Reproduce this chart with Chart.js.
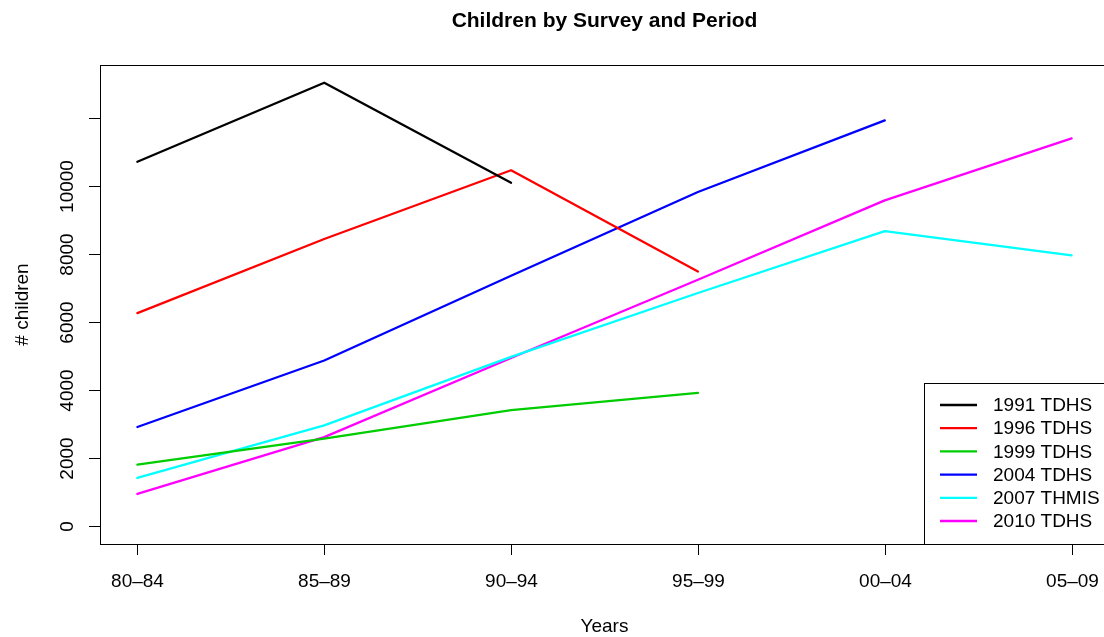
<!doctype html>
<html>

<head>
  <meta charset="UTF-8">
  <script src="https://cdn.jsdelivr.net/npm/chart.js"></script>
  <style>
    html, body { margin: 0; padding: 0; background: #fff; overflow: hidden; }
    #chart { position: absolute; left: 0; top: 0; }
  </style>
</head>

<body>
  <canvas id="chart" width="1120" height="637"></canvas>
</body>

<script>
  // Data
  const periods = ['80–84', '85–89', '90–94', '95–99', '00–04', '05–09'];
  const surveys = ['1991 TDHS', '1996 TDHS', '1999 TDHS', '2004 TDHS', '2007 THMIS', '2010 TDHS'];
  const colors = ['#000000', '#FF0000', '#00CD00', '#0000FF', '#00FFFF', '#FF00FF'];

  const s1991 = [10720, 13045, 10105, null, null, null];
  const s1996 = [6270, 8450, 10470, 7495, null, null];
  const s1999 = [1815, 2580, 3415, 3925, null, null];
  const s2004 = [2920, 4875, 7370, 9830, 11940, null];
  const s2007 = [1420, 2965, 4980, 6860, 8680, 7965];
  const s2010 = [950, 2620, 4950, 7250, 9585, 11410];
  const series = [s1991, s1996, s1999, s2004, s2007, s2010];

  const yTicks = [0, 2000, 4000, 6000, 8000, 10000, 12000];
  const yTickLabels = ['0', '2000', '4000', '6000', '8000', '10000', ''];

  const FONT = '"Liberation Sans", Arial, Helvetica, sans-serif';

  // R-style axes, box, titles and legend
  const rDecor = {
    id: 'rDecor',
    afterDraw(chart) {
      const ctx = chart.ctx;
      const a = chart.chartArea;
      const xs = chart.scales.x;
      const ys = chart.scales.y;
      ctx.save();
      ctx.strokeStyle = '#000';
      ctx.fillStyle = '#000';
      ctx.lineWidth = 1;

      // plot box
      ctx.strokeRect(Math.round(a.left) + 0.5, Math.round(a.top) + 0.5,
        Math.round(a.right - a.left), Math.round(a.bottom - a.top));

      // x axis ticks + labels
      ctx.font = '19px ' + FONT;
      ctx.textAlign = 'center';
      ctx.textBaseline = 'alphabetic';
      periods.forEach((p, i) => {
        const x = Math.round(xs.getPixelForValue(i + 1)) + 0.5;
        ctx.beginPath();
        ctx.moveTo(x, a.bottom);
        ctx.lineTo(x, a.bottom + 11);
        ctx.stroke();
        ctx.fillText(p, x, 587);
      });

      // y axis ticks + rotated labels
      yTicks.forEach((v, i) => {
        const y = Math.round(ys.getPixelForValue(v)) + 0.5;
        ctx.beginPath();
        ctx.moveTo(a.left - 11, y);
        ctx.lineTo(a.left, y);
        ctx.stroke();
        if (yTickLabels[i]) {
          ctx.save();
          ctx.translate(73, y);
          ctx.rotate(-Math.PI / 2);
          ctx.fillText(yTickLabels[i], 0, 0);
          ctx.restore();
        }
      });

      // axis titles
      ctx.fillText('Years', (a.left + a.right) / 2, 632);
      ctx.save();
      ctx.translate(28, (a.top + a.bottom) / 2);
      ctx.rotate(-Math.PI / 2);
      ctx.fillText('# children', 0, 0);
      ctx.restore();

      // main title
      ctx.font = 'bold 21px ' + FONT;
      ctx.fillText('Children by Survey and Period', (a.left + a.right) / 2, 27);

      // legend (top-right inside plot, R style)
      const lx = 924.5, ly = 383.5;
      ctx.fillStyle = '#fff';
      ctx.fillRect(lx, ly, a.right - lx, a.bottom - ly);
      ctx.strokeStyle = '#000';
      ctx.strokeRect(lx, ly, Math.round(a.right) + 0.5 - lx, Math.round(a.bottom) + 0.5 - ly);
      ctx.font = '19px ' + FONT;
      ctx.textAlign = 'left';
      ctx.textBaseline = 'middle';
      chart.data.datasets.forEach((ds, i) => {
        const y = 405 + i * 23.2;
        ctx.strokeStyle = ds.borderColor;
        ctx.lineWidth = 2.3;
        ctx.beginPath();
        ctx.moveTo(940, y);
        ctx.lineTo(977, y);
        ctx.stroke();
        ctx.fillStyle = '#000';
        ctx.fillText(ds.label, 993, y + 1);
      });
      ctx.restore();
    }
  };

  const datasets = series.map((vals, k) => ({
    label: surveys[k],
    data: vals.map((v, i) => ({ x: i + 1, y: v })).filter(p => p.y !== null),
    borderColor: colors[k],
    backgroundColor: colors[k],
    borderWidth: 2.3,
    borderCapStyle: 'round',
    borderJoinStyle: 'round',
    pointRadius: 0,
    tension: 0,
    fill: false
  }));

  new Chart(document.getElementById('chart').getContext('2d'), {
    type: 'line',
    data: { datasets: datasets },
    options: {
      responsive: false,
      animation: false,
      devicePixelRatio: 1,
      layout: { padding: { left: 100, top: 65, right: 11, bottom: 93 } },
      plugins: { legend: { display: false }, title: { display: false }, tooltip: { enabled: false } },
      scales: {
        x: { type: 'linear', display: false, min: 0.8, max: 6.2 },
        y: { type: 'linear', display: false, min: -522, max: 13567 }
      }
    },
    plugins: [rDecor]
  });
</script>

</html>
